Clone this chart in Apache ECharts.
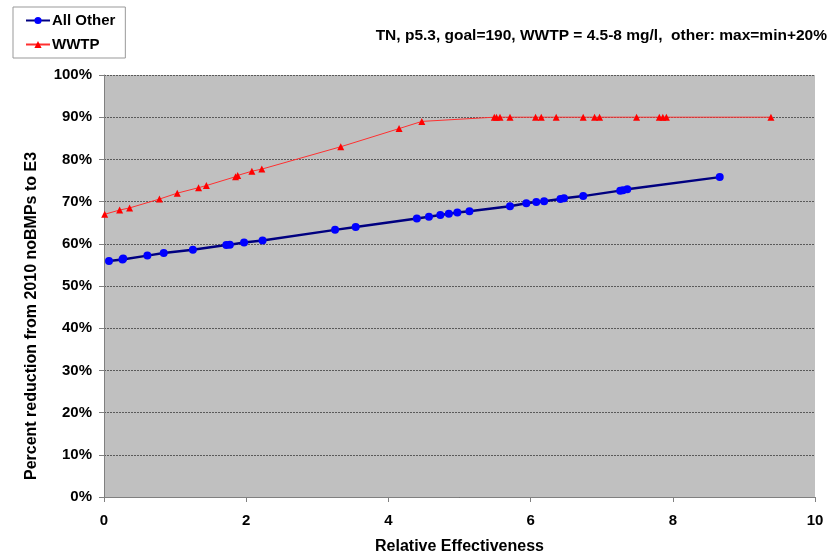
<!DOCTYPE html>
<html><head><meta charset="utf-8">
<script src="https://cdn.jsdelivr.net/npm/echarts@6/dist/echarts.min.js"></script>
<style>html,body{margin:0;padding:0;background:#fff}#c{width:835px;height:560px}</style>
</head><body><div id="c"></div>
<script>
const titleText = "TN, p5.3, goal=190, WWTP = 4.5-8 mg/l,  other: max=min+20%";
const xAxisName = "Relative Effectiveness";
const yAxisName = "Percent reduction from 2010 noBMPs to E3";
const seriesNames = ["All Other", "WWTP"];
const allOtherX = [0.07,0.26,0.27,0.61,0.84,1.25,1.72,1.77,1.97,2.23,3.25,3.54,4.40,4.57,4.73,4.85,4.97,5.14,5.71,5.94,6.08,6.19,6.42,6.47,6.74,7.26,7.30,7.36,8.66];
const allOtherY = [55.9,56.3,56.5,57.2,57.8,58.6,59.7,59.8,60.3,60.8,63.3,64.0,66.0,66.4,66.8,67.1,67.4,67.7,68.9,69.6,69.9,70.1,70.6,70.8,71.3,72.6,72.7,72.9,75.8];
const wwtpX = [0.01,0.22,0.36,0.78,1.03,1.33,1.44,1.85,1.88,2.08,2.22,3.33,4.15,4.47,5.49,5.52,5.57,5.71,6.07,6.15,6.36,6.74,6.90,6.97,7.49,7.81,7.86,7.91,9.38];
const wwtpY = [67.0,68.0,68.5,70.6,72.0,73.3,73.8,75.9,76.2,77.2,77.7,83.0,87.3,89.0,90,90,90,90,90,90,90,90,90,90,90,90,90,90,90];

const pairs = (xs, ys) => xs.map((x, i) => [x, ys[i]]);
const font = 'Liberation Sans, Arial, sans-serif';
const chart = echarts.init(document.getElementById('c'), null, {renderer: 'canvas'});
chart.setOption({
  animation: false,
  backgroundColor: '#fff',
  title: {
    text: titleText, right: 3, top: 23,
    textStyle: {fontFamily: font, fontSize: 15.5, fontWeight: 'bold', color: '#000'}
  },
  legend: {
    left: 13, top: 7, orient: 'vertical', itemGap: 9,
    padding: [6, 10, 6, 12],
    borderColor: '#999', borderWidth: 1,
    itemWidth: 24, itemHeight: 9,
    textStyle: {fontFamily: font, fontSize: 15, fontWeight: 'bold', color: '#000', padding: [0,0,0,-3]},
    data: [seriesNames[0], seriesNames[1]]
  },
  grid: {left: 104, right: 20, top: 75, bottom: 61, show: true, backgroundColor: '#c0c0c0', borderWidth: 0},
  xAxis: {
    type: 'value', min: 0, max: 10, interval: 2,
    name: xAxisName, nameLocation: 'middle', nameGap: 42,
    nameTextStyle: {fontFamily: font, fontSize: 16, fontWeight: 'bold', color: '#000'},
    axisLine: {show: true, lineStyle: {color: '#808080', width: 1}},
    axisTick: {show: true, length: 5, lineStyle: {color: '#808080'}},
    axisLabel: {fontFamily: font, fontSize: 15, fontWeight: 'bold', color: '#000', margin: 16},
    splitLine: {show: false}
  },
  yAxis: {
    type: 'value', min: 0, max: 100, interval: 10,
    name: yAxisName, nameLocation: 'middle', nameGap: 64, nameRotate: 90,
    nameTextStyle: {fontFamily: font, fontSize: 16, fontWeight: 'bold', color: '#000', padding: [0, 60, 0, 0]},
    axisLine: {show: true, lineStyle: {color: '#808080', width: 1}},
    axisTick: {show: true, length: 5, lineStyle: {color: '#808080'}},
    axisLabel: {fontFamily: font, fontSize: 15, fontWeight: 'bold', color: '#000', margin: 12, formatter: '{value}%'},
    splitLine: {show: true, lineStyle: {color: '#5a5a5a', width: 1, type: [2, 1]}}
  },
  series: [
    {
      name: seriesNames[0], type: 'line', data: pairs(allOtherX, allOtherY),
      symbol: 'circle', symbolSize: 8,
      lineStyle: {color: '#000080', width: 2.5},
      itemStyle: {color: '#0000ff'}
    },
    {
      name: seriesNames[1], type: 'line', data: pairs(wwtpX, wwtpY),
      symbol: 'triangle', symbolSize: 7,
      lineStyle: {color: '#ff3030', width: 1},
      itemStyle: {color: '#ff0000'}
    }
  ]
});
</script></body></html>
